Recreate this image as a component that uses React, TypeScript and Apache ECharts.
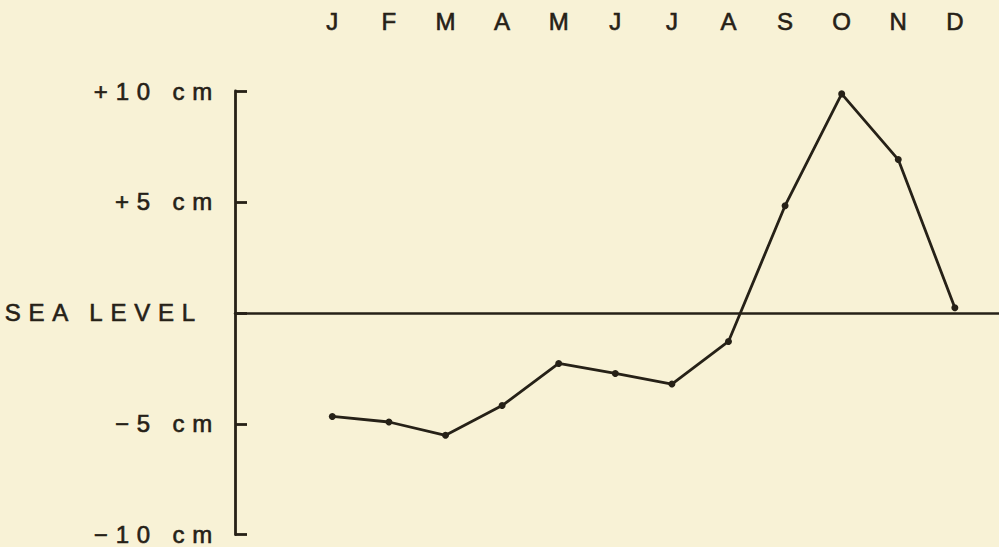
import React, { useEffect, useRef } from "react";
import * as echarts from "echarts";

const MONTHS = ["J", "F", "M", "A", "M", "J", "J", "A", "S", "O", "N", "D"];
const SEA_LEVEL_CM = [-4.67, -4.92, -5.52, -4.18, -2.28, -2.73, -3.21, -1.29, 4.83, 9.87, 6.91, 0.23];
const Y_TICK_VALUES = [-10, -5, 0, 5, 10];
const Y_TICK_LABELS = ["\u221210 cm", "\u22125 cm", "SEA LEVEL", "+5 cm", "+10 cm"];

const INK = "#262117";
const BG = "#f8f2d6";
const FONT = "'Liberation Sans', Arial, Helvetica, sans-serif";

export default function App() {
  const ref = useRef<HTMLDivElement>(null);

  useEffect(() => {
    if (!ref.current) return;
    const chart = echarts.init(ref.current, null, { renderer: "svg" });
    const monthIdx = MONTHS.map((_, i) => i);
    const xMin = -1.72;
    const xMax = 11.78;
    const textBase = {
      color: INK,
      fontFamily: FONT,
      fontSize: 24,
      textBorderColor: INK,
      textBorderWidth: 0.6,
    };
    chart.setOption({
      animation: false,
      backgroundColor: BG,
      grid: { left: 235, right: 0, top: 91, bottom: 11.5 },
      xAxis: [
        {
          type: "value",
          min: xMin,
          max: xMax,
          axisLine: { show: true, onZero: true, lineStyle: { color: INK, width: 2.5 } },
          axisTick: { show: false },
          axisLabel: { show: false },
          splitLine: { show: false },
        },
        {
          type: "value",
          position: "top",
          min: xMin,
          max: xMax,
          axisLine: { show: false },
          axisTick: { show: false },
          splitLine: { show: false },
          axisLabel: {
            show: true,
            customValues: monthIdx,
            formatter: (v: number) => MONTHS[Math.round(v)] ?? "",
            ...textBase,
            margin: 58,
          },
        },
      ],
      yAxis: {
        type: "value",
        min: -10,
        max: 10,
        interval: 5,
        axisLine: { show: true, onZero: false, lineStyle: { color: INK, width: 2.8 } },
        axisTick: { show: true, inside: true, length: 12, lineStyle: { color: INK, width: 2.8 } },
        splitLine: { show: false },
        axisLabel: {
          show: true,
          ...textBase,
          margin: 15,
          formatter: (v: number) => {
            const i = Y_TICK_VALUES.indexOf(v);
            const t = i >= 0 ? Y_TICK_LABELS[i] : "";
            if (v === 0) return "{sea|" + t + "}";
            return "{cm|" + t + "}";
          },
          rich: {
            sea: { ...textBase, padding: [0, 17, 0, 0] },
            cm: { ...textBase },
          },
        },
      },
      series: [
        {
          type: "line",
          xAxisIndex: 0,
          data: SEA_LEVEL_CM.map((v, i) => [monthIdx[i], v]),
          symbol: "circle",
          symbolSize: 7,
          lineStyle: { color: INK, width: 2.8 },
          itemStyle: { color: INK },
        },
      ],
    });
    return () => chart.dispose();
  }, []);

  return (
    <>
      <style>{`body{margin:0;background:${BG};} .chart text[text-anchor="end"]{letter-spacing:7.8px;}`}</style>
      <div
        ref={ref}
        className="chart"
        style={{ position: "fixed", left: 0, top: 0, width: 999, height: 547 }}
      />
    </>
  );
}
